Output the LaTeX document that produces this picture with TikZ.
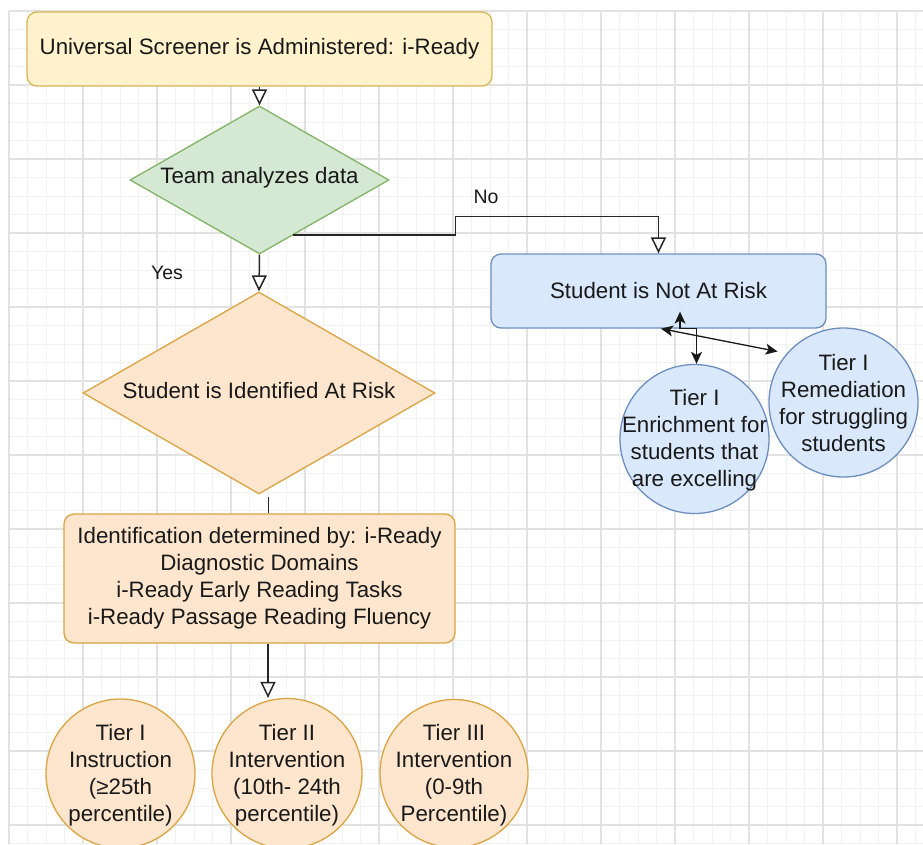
\documentclass[tikz,border=0pt]{standalone}
\usepackage{fontspec}
\setmainfont{Liberation Sans}
\usetikzlibrary{shapes.geometric, arrows.meta, calc}
\definecolor{ylwF}{HTML}{FFF2CC}\definecolor{ylwD}{HTML}{D6B656}
\definecolor{grnF}{HTML}{D5E8D4}\definecolor{grnD}{HTML}{82B366}
\definecolor{bluF}{HTML}{DAE8FC}\definecolor{bluD}{HTML}{6C8EBF}
\definecolor{orgF}{HTML}{FDE6CD}\definecolor{orgD}{HTML}{D9A441}
\definecolor{gridMinor}{HTML}{F2F2F2}\definecolor{gridMajor}{HTML}{E2E2E2}
\tikzset{
  txt/.style={font=\fontsize{22.3}{27}\selectfont, text=black!90, align=center, inner sep=0pt},
  lbl/.style={font=\fontsize{19.5}{23}\selectfont, text=black!90, inner sep=0pt},
  box/.style={txt, draw, rounded corners=10pt, line width=1.3pt},
  dia/.style={diamond, draw, line width=1.3pt, inner sep=0pt},
  circ/.style={circle, draw, line width=1.3pt, inner sep=0pt},
  conn/.style={line width=1.5pt, draw=black!85},
  thinconn/.style={line width=1.3pt, draw=black!90},
  openarr/.style={-{Triangle[open, length=16pt, width=15pt]}},
  bothfill/.style={{Stealth[length=12pt, width=11pt, inset=3pt]}-{Stealth[length=12pt, width=11pt, inset=3pt]}},
  minorgrid/.style={draw=gridMinor, line width=1pt},
  majorgrid/.style={draw=gridMajor, line width=1.2pt}
}
\begin{document}
\begin{tikzpicture}[x=1pt, y=-1pt]
\useasboundingbox (0,0) rectangle (923,844);
\fill[white] (0,0) rectangle (923,844);
% grid
\foreach \i in {0,...,49} \draw[minorgrid] ({9+18.5*\i},11) -- ({9+18.5*\i},844);
\foreach \j in {0,...,45} \draw[minorgrid] (9,{11+18.5*\j}) -- (923,{11+18.5*\j});
\foreach \i in {0,...,12} \draw[majorgrid] ({9+74*\i},11) -- ({9+74*\i},844);
\foreach \j in {0,...,11} \draw[majorgrid] (9,{11+74*\j}) -- (923,{11+74*\j});

% shapes
\node[box, fill=ylwF, draw=ylwD, minimum width=465, minimum height=74] (top) at (259.5,49) {Universal Screener is Administered: i-Ready};
\node[dia, fill=grnF, draw=grnD, minimum width=259, minimum height=148] (team) at (259.5,180) {};
\node[txt] (teamt) at (259.5,177.5) {Team analyzes data};
\node[box, fill=bluF, draw=bluD, minimum width=335, minimum height=74] (notrisk) at (658.5,291) {Student is Not At Risk};
\node[dia, fill=orgF, draw=orgD, minimum width=352, minimum height=202] (risk) at (259,393) {};
\node[txt] (riskt) at (259,391) {Student is Identified At Risk};
\node[box, fill=orgF, draw=orgD, minimum width=391, minimum height=129] (ident) at (259.5,578.5) {Identification determined by: i-Ready\\Diagnostic Domains\\i-Ready Early Reading Tasks\\i-Ready Passage Reading Fluency};

\node[circ, fill=bluF, draw=bluD, minimum size=149] (e1) at (694.5,439) {};
\node[txt] (e1t) at (694.5,440) {Tier I\\Enrichment for\\students that\\are excelling};
\node[circ, fill=bluF, draw=bluD, minimum size=149] (e2) at (843.5,402.5) {};
\node[txt] (e2t) at (843.5,403) {Tier I\\Remediation\\for struggling\\students};

\node[circ, fill=orgF, draw=orgD, minimum size=149] (t1) at (120.5,773.5) {};
\node[txt] (t1t) at (120.5,775.5) {Tier I\\Instruction\\(≥25th\\percentile)};
\node[circ, fill=orgF, draw=orgD, minimum size=150] (t2) at (287,773.5) {};
\node[txt] (t2t) at (287,775.5) {Tier II\\Intervention\\(10th- 24th\\percentile)};
\node[circ, fill=orgF, draw=orgD, minimum size=148] (t3) at (454,773.5) {};
\node[txt] (t3t) at (454,775.5) {Tier III\\Intervention\\(0-9th\\Percentile)};

% labels
\node[lbl] (yes) at (167,272.5) {Yes};
\node[lbl] (no) at (486,197) {No};

% connectors
\draw[conn, openarr] (top.south) -- (team.north);
\draw[conn, openarr] (team.south) -- (risk.north);
\coordinate (ns) at ($(team.south)!0.26!(team.east)$);
\draw[conn, openarr] (ns) -- ++(162,0) |- ($(notrisk.north)+(0,-37)$) -- (notrisk.north);
\coordinate (rb) at ($(risk.south)+(9.5,2)$);
\draw[conn] (rb) -- (rb |- ident.north);
\coordinate (ax) at ($(ident.south)+(8.5,0)$);
\draw[conn, openarr] (ax) -- (ax |- t2.north);

\coordinate (pa) at ($(notrisk.south)+(21.5,-17)$);
\draw[thinconn, bothfill] (pa) -- (pa |- notrisk.south) -| ($(e1.north)+(2,0)$);
\coordinate (pb) at ($(notrisk.south)+(2.5,0)$);
\coordinate (pc) at ($(e2.center)+(-66,-51)$);
\draw[thinconn, bothfill] (pb) -- (pc);
\end{tikzpicture}
\end{document}
